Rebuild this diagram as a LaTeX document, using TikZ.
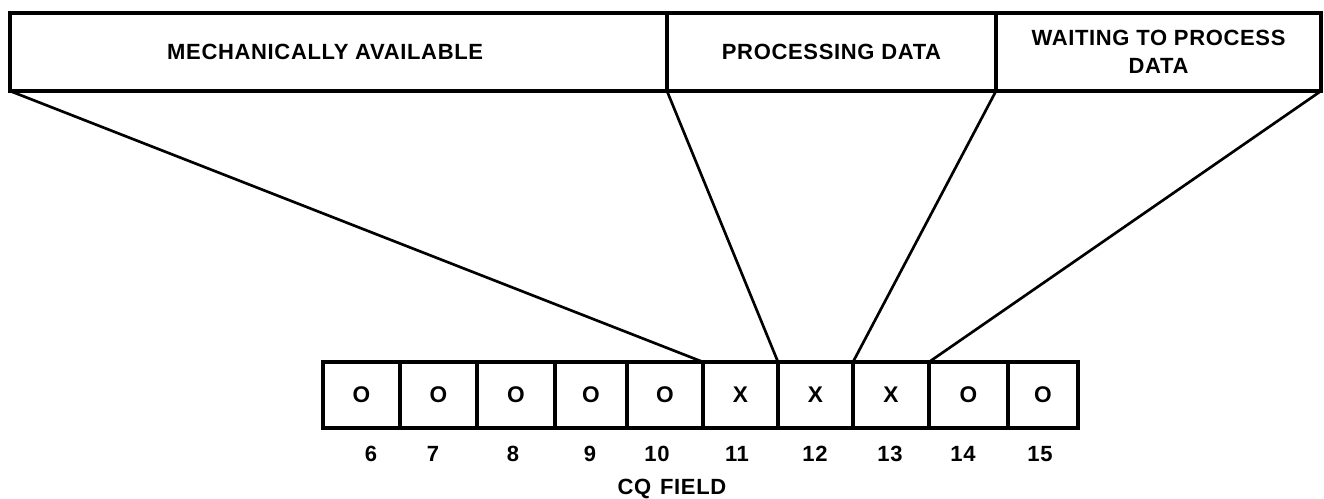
\documentclass[tikz,border=0pt]{standalone}
\usepackage{fontspec}
\setmainfont{Liberation Sans}
\newfontfamily\lettering[LetterSpace=3]{Liberation Sans}
\begin{document}
\begin{tikzpicture}[x=0.75pt,y=-0.75pt,
  topbox/.style={draw,line width=2.6pt,outer sep=0pt,inner sep=2pt,minimum height=58.5pt,align=center,font=\lettering\bfseries\fontsize{16.5}{21}\selectfont},
  cellbox/.style={draw,line width=2.6pt,outer sep=0pt,inner sep=0pt,minimum height=49.5pt,font=\lettering\bfseries\fontsize{17}{18}\selectfont},
  numlabel/.style={inner sep=0pt,font=\lettering\bfseries\fontsize{16.5}{18}\selectfont},
  conn/.style={line width=2pt}]
\useasboundingbox (0,0) rectangle (1324,499);
\node[topbox,minimum width=492.75pt] (mech) at (338.5,52) {MECHANICALLY AVAILABLE\hspace*{20pt}};
\node[topbox,minimum width=246.75pt] (proc) at (831.5,52) {PROCESSING DATA};
\node[topbox,minimum width=243.75pt] (wait) at (1158.5,52) {WAITING TO PROCESS\\DATA};
\foreach \n/\l/\r/\t in {6/323/400/O,7/400/477/O,8/477/555/O,9/555/627/O,10/627/703/O,11/703/778/X,12/778/853/X,13/853/929/X,14/929/1008/O,15/1008/1078/O}{
  \node[cellbox,minimum width={(\r-\l)*0.75pt}] (c\n) at ({(\l+\r)/2},395) {\t};
}
\foreach \n/\x in {6/371,7/433,8/513,9/590,10/657,11/737,12/815,13/890,14/963,15/1040}{
  \node[numlabel] (n\n) at (\x,454) {\n};
}
\node[numlabel] (cq) at (672,489) {CQ\hspace{0.4em}FIELD};
\draw[conn] (mech.south west) -- (c11.north west);
\draw[conn] (mech.south east) -- (c11.north east);
\draw[conn] (proc.south east) -- (c12.north east);
\draw[conn] (wait.south east) -- (c13.north east);
\end{tikzpicture}
\end{document}
